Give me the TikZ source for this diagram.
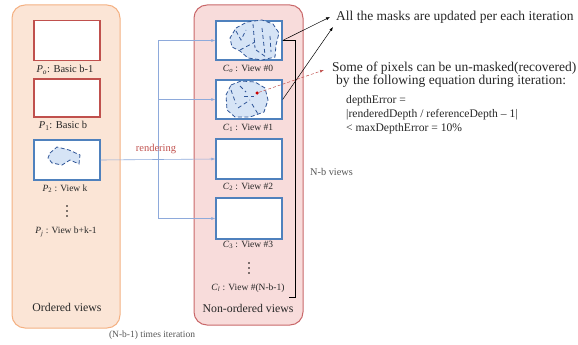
\documentclass[tikz,border=0pt]{standalone}
\usepackage{fontspec}
\setmainfont{Liberation Serif}
\usetikzlibrary{arrows.meta}
\definecolor{panelO}{HTML}{FBE5D6}
\definecolor{panelOb}{HTML}{F4B183}
\definecolor{panelR}{HTML}{F8DCDB}
\definecolor{panelRb}{HTML}{C9686A}
\definecolor{boxblue}{HTML}{4F81BD}
\definecolor{boxred}{HTML}{C0504D}
\definecolor{maskfill}{HTML}{D6E4F6}
\definecolor{maskline}{HTML}{2F5597}
\definecolor{rendline}{HTML}{8EAADB}
\definecolor{txt}{HTML}{262626}
\definecolor{greytxt}{HTML}{555555}
\newcommand\sub[2]{\textit{#1}\textsubscript{#2}}
\tikzset{
  panelo/.style={draw=panelOb, fill=panelO, rounded corners=13pt, line width=1pt},
  panelr/.style={draw=panelRb, fill=panelR, rounded corners=13pt, line width=1pt},
  viewbox/.style={draw=boxblue, fill=white, line width=1.3pt, minimum width=66pt, inner sep=0pt},
  basebox/.style={draw=boxred, fill=white, line width=1.3pt, minimum width=66pt, inner sep=0pt},
  lbl/.style={font=\fontsize{9.5}{10}\selectfont, text=txt, inner sep=0pt},
  lblb/.style={font=\fontsize{10.5}{11}\selectfont, text=txt, inner sep=0pt},
  bigt/.style={font=\fontsize{11.8}{12}\selectfont, text=txt, inner sep=0pt},
  maint/.style={font=\fontsize{13.5}{14}\selectfont, text=txt, inner sep=0pt, anchor=west},
  eqt/.style={font=\fontsize{11.6}{12}\selectfont, text=txt, inner sep=0pt, anchor=west},
  mask/.style={draw=maskline, fill=maskfill, dash pattern=on 4pt off 2.5pt, line width=0.8pt},
  maskin/.style={draw=maskline, dash pattern=on 4pt off 3pt, line width=0.8pt},
  dot/.style={circle, fill=black, inner sep=0pt, minimum size=1.8pt},
  rend/.style={draw=rendline, line width=0.6pt},
  rendarr/.style={rend, -{Latex[length=4pt,width=3pt]}},
  blkarr/.style={draw=black, line width=0.5pt, -{Latex[length=4pt,width=3pt]}},
  redarr/.style={draw=boxred, line width=0.5pt, densely dashed, -{Latex[length=4pt,width=3pt]}},
}
\begin{document}
\begin{tikzpicture}[x=1pt,y=-1pt]
\useasboundingbox (0,0) rectangle (578,345);
% panels
\draw[panelo] (12,5) rectangle (120,328);
\draw[panelr] (194,5) rectangle (303,325);
% ordered views
\node[basebox, minimum height=40pt] (P0) at (67,40.5) {};
\node[lblb] (lP0) at (65,70) {\sub{P}{\textit{o}}: Basic b-1};
\node[basebox, minimum height=38pt] (P1) at (67,98) {};
\node[lblb] (lP1) at (63,126) {\sub{P}{1}: Basic b};
\node[viewbox, minimum height=40pt] (P2) at (67,160) {};
\node[lbl] (lP2) at (65,189) {\sub{P}{2} : View k};
\node[dot] (dP1) at (67,206) {};
\node[dot] (dP2) at (67,211) {};
\node[dot] (dP3) at (67,216) {};
\node[lbl] (lPj) at (66,232) {\sub{P}{\textit{j}} : View b+k-1};
\node[bigt] (ord) at (67,307) {Ordered views};
% non-ordered views
\node[viewbox, minimum height=39pt] (C0) at (249,40.5) {};
\node[lbl] (lC0) at (248,69) {\sub{C}{\textit{o}} : View \#0};
\node[viewbox, minimum height=39pt] (C1) at (249,99.5) {};
\node[lbl] (lC1) at (248,128) {\sub{C}{1} : View \#1};
\node[viewbox, minimum height=40pt] (C2) at (249,159) {};
\node[lbl] (lC2) at (248,187) {\sub{C}{2} : View \#2};
\node[viewbox, minimum height=41pt] (C3) at (249,218.5) {};
\node[lbl] (lC3) at (248,245) {\sub{C}{3} : View \#3};
\node[dot] (dC1) at (249,263) {};
\node[dot] (dC2) at (249,268) {};
\node[dot] (dC3) at (249,273) {};
\node[lbl] (lCl) at (248,288) {\sub{C}{\textit{l}} : View \#(N-b-1)};
\node[bigt] (nord) at (248,308) {Non-ordered views};
% masks
\draw[mask] (50,153) -- (57,147) -- (69,150) -- (80,155) -- (79,164) -- (70,160) -- (62,165) -- (52,163) -- (48,158) -- cycle;
\draw[mask] (236,28) -- (247,22) -- (262,20) -- (273,24) -- (279,33) -- (276,45) -- (275,57) -- (262,60) -- (248,58) -- (240,51) -- (232,47) -- (230,38) -- cycle;
\draw[maskin] (236,31) -- (241,40) -- (246,30);
\draw[maskin] (253,24) -- (255,48);
\draw[maskin] (262,28) -- (265,55);
\draw[maskin] (240,50) -- (255,42);
\draw[maskin] (270,36) -- (271,52);
\draw[maskin] (256,50) -- (266,57);
\draw[mask] (231,85) -- (241,81) -- (255,82) -- (265,88) -- (268,100) -- (264,112) -- (250,117) -- (235,117) -- (227,110) -- (226,95) -- cycle;
\draw[maskin] (231,90) -- (236,104);
\draw[maskin] (240,86) -- (246,92);
\draw[maskin] (238,108) -- (250,100);
\draw[maskin] (252,104) -- (258,114);
\draw[maskin] (244,96) -- (254,96);
% rendering connectors
\coordinate (jx) at (158,160);
\draw[rendarr] (P2.east) -- (C2.west);
\draw[rend] (jx |- C0.west) -- (jx |- C3.west);
\draw[rendarr] (jx |- C0.west) -- (C0.west);
\draw[rendarr] (jx |- C1.west) -- (C1.west);
\draw[rendarr] (jx |- C3.west) -- (C3.west);
\node[font=\fontsize{10.5}{11}\selectfont, text=boxred, inner sep=0pt] (rl) at (156,149) {rendering};
% bracket
\coordinate (br) at (295,297);
\draw[black, line width=0.7pt] (C0.east) -| (br) -- ++(-6,0);
\node[font=\fontsize{10.3}{11}\selectfont, text=greytxt, inner sep=0pt, anchor=west] (nb) at (310,172) {N-b views};
\node[font=\fontsize{9.5}{10}\selectfont, text=greytxt, inner sep=0pt] (it) at (152,335) {(N-b-1) times iteration};
% annotations
\node[maint] (t1) at (336,17) {All the masks are updated per each iteration};
\node[maint] (t2) at (332,68) {Some of pixels can be un-masked(recovered)};
\node[maint] (t3) at (336,81) {by the following equation during iteration:};
\node[eqt] (e1) at (346,101) {depthError =};
\node[eqt] (e2) at (346,115) {|renderedDepth / referenceDepth -- 1|};
\node[eqt] (e3) at (346,129) {< maxDepthError = 10\%};
\coordinate (a1) at (330,17);
\coordinate (a2) at (333,27);
\coordinate (a3) at (324,70);
\draw[blkarr] (C0.east) -- (a1);
\draw[blkarr] (C1.east) -- (a2);
\node[circle, fill=red!80!black, inner sep=0pt, minimum size=3.5pt] (rd) at (257,93) {};
\draw[redarr] (rd) -- (a3);
\end{tikzpicture}
\end{document}
